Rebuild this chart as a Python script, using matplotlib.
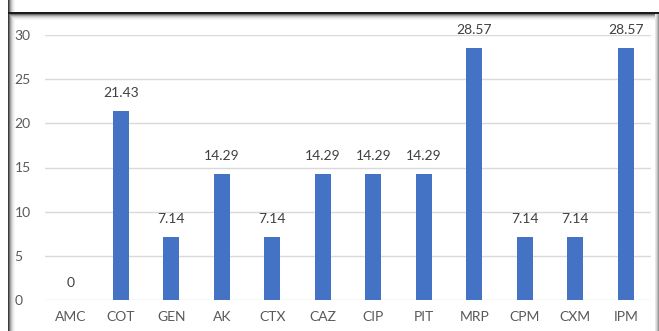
import matplotlib
matplotlib.use('Agg')
from matplotlib import pyplot as plt
from matplotlib.patches import Rectangle

#%%
antibiotics = ['AMC', 'COT', 'GEN', 'AK', 'CTX', 'CAZ', 'CIP', 'PIT', 'MRP', 'CPM', 'CXM', 'IPM']
resistance = [0, 21.43, 7.14, 14.29, 7.14, 14.29, 14.29, 14.29, 28.57, 7.14, 7.14, 28.57]
y_ticks = [0, 5, 10, 15, 20, 25, 30]

plt.rcParams['font.family'] = ['Lato', 'DejaVu Sans']

#%%
fig = plt.figure(figsize=(6.59, 3.31), dpi=100)
ax = fig.add_axes([45 / 659, 31 / 331, 606 / 659, 265 / 331])

x = range(len(antibiotics))
bars = ax.bar(x, resistance, width=0.31, color='#4472C4', zorder=3)
for rect, val in zip(bars, resistance):
    ax.text(rect.get_x() + rect.get_width() / 2, val + 1.3, f'{val:g}',
            ha='center', va='bottom', fontsize=10, color='#404040')

ax.set_xlim(-0.5, len(antibiotics) - 0.5)
ax.set_ylim(0, 30)
ax.set_xticks(list(x))
ax.set_xticklabels(antibiotics)
ax.set_yticks(y_ticks)
ax.tick_params(length=0, labelsize=10, labelcolor='#595959')
ax.tick_params(axis='x', pad=8)
ax.tick_params(axis='y', pad=22)
for lbl in ax.get_yticklabels():
    lbl.set_horizontalalignment('left')
ax.grid(axis='y', color='#D9D9D9', linewidth=1, zorder=0)
for s in ax.spines.values():
    s.set_visible(False)

# window frame: dark edge with a soft inner shadow
fw, fh = 659, 331
shade = ['#3a3a3a', '#707070', '#a0a0a0', '#c4c4c4', '#dcdcdc', '#ececec', '#f6f6f6']
for i, c in enumerate(shade):
    fig.add_artist(Rectangle(((8 + i) / fw, -0.1), 1 / fw, 1.2, transform=fig.transFigure,
                             facecolor=c, edgecolor='none', zorder=-1 - i))
    fig.add_artist(Rectangle((8 / fw, (331 - 14 - i) / fh), 652 / fw, 1 / fh,
                             transform=fig.transFigure, facecolor=c, edgecolor='none',
                             zorder=-1 - i))
for i, c in enumerate(['#9a9a9a', '#bcbcbc', '#d6d6d6', '#e8e8e8']):
    fig.add_artist(Rectangle(((658 - i) / fw, -0.1), 1 / fw, (331 - 13) / fh + 0.1,
                             transform=fig.transFigure, facecolor=c, edgecolor='none'))
fig.add_artist(Rectangle((8 / fw, (331 - 14) / fh), 652 / fw, 1.5 / fh, transform=fig.transFigure,
                         facecolor='#1a1a1a', edgecolor='none'))

fig.savefig('out.png', dpi=100)
